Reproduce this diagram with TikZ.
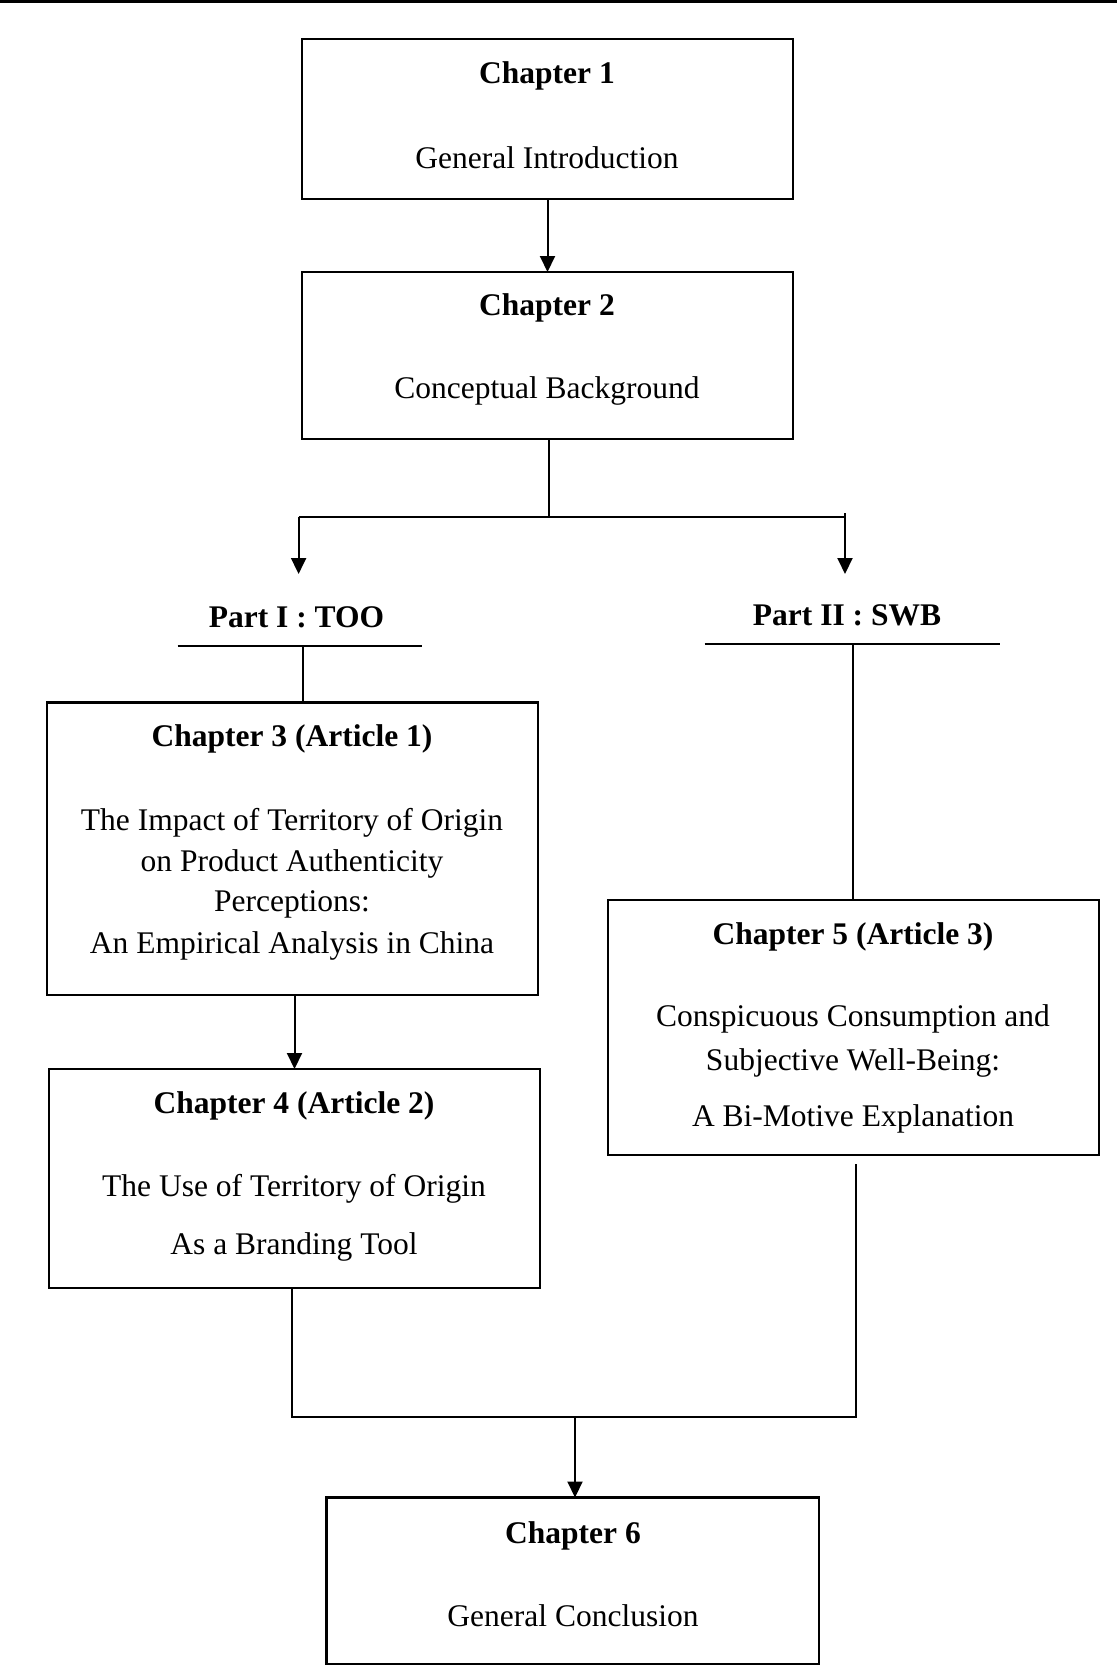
\documentclass[tikz,border=0pt]{standalone}
\usepackage{fontspec}
\setmainfont{Liberation Serif}
\usetikzlibrary{arrows.meta}
\begin{document}
\begin{tikzpicture}[x=1pt,y=-1pt,
  box/.style={draw, line width=2.3pt, inner sep=0pt, outer sep=0pt, minimum width=491pt},
  txt/.style={inner sep=0pt, font=\fontsize{31.5}{40}\selectfont},
  btxt/.style={inner sep=0pt, font=\fontsize{31.5}{40}\selectfont\bfseries},
  conn/.style={line width=2pt},
  arr/.style={line width=2pt, -{Triangle[length=16pt,width=15pt]}},
  rule/.style={line width=2.3pt}
]
\useasboundingbox (0,0) rectangle (1117,1667);
\draw[line width=3pt] (0,1.5) -- (1117,1.5);

% boxes
\node[box, minimum height=160pt] (b1) at (547.5,119) {};
\node[box, minimum height=167pt] (b2) at (547.5,355.5) {};
\node[box, minimum height=292.5pt] (b3) at (292.5,848.75) {};
\node[box, minimum height=219pt] (b4) at (294.5,1178.5) {};
\node[box, minimum height=255pt] (b5) at (853.5,1027.5) {};
\node[box, minimum width=492.5pt, minimum height=166.5pt] (b6) at (572.75,1580.75) {};

% texts
\node[btxt] (t1a) at (547,75.5) {Chapter 1};
\node[txt] (t1b) at (547,157.5) {General Introduction};
\node[btxt] (t2a) at (547,308.2) {Chapter 2};
\node[txt] (t2b) at (547,391.2) {Conceptual Background};
\node[btxt] (t3a) at (292,738.7) {Chapter 3 (Article 1)};
\node[txt] (t3b) at (292,822.6) {The Impact of Territory of Origin};
\node[txt] (t3c) at (292,864.1) {on Product Authenticity};
\node[txt] (t3d) at (292,904.5) {Perceptions:};
\node[txt] (t3e) at (292,945.9) {An Empirical Analysis in China};
\node[btxt] (t4a) at (294,1106.2) {Chapter 4 (Article 2)};
\node[txt] (t4b) at (294,1189.2) {The Use of Territory of Origin};
\node[txt] (t4c) at (294,1246.7) {As a Branding Tool};
\node[btxt] (t5a) at (853,937.2) {Chapter 5 (Article 3)};
\node[txt] (t5b) at (853,1019.2) {Conspicuous Consumption and};
\node[txt] (t5c) at (853,1062.8) {Subjective Well-Being:};
\node[txt] (t5d) at (853,1119.2) {A Bi-Motive Explanation};
\node[btxt] (t6a) at (573,1535.8) {Chapter 6};
\node[txt] (t6b) at (573,1615.5) {General Conclusion};

% parts
\node[btxt] (p1) at (296.5,617.5) {Part I : TOO};
\node[btxt] (p2) at (847,615.4) {Part II : SWB};
\coordinate (u1a) at (177.5,646);
\coordinate (u1b) at (422,646);
\coordinate (u2a) at (704.5,644);
\coordinate (u2b) at (1000,644);
\draw[rule] (u1a) -- (u1b);
\draw[rule] (u2a) -- (u2b);

% connectors
\draw[arr] (b1.south) -- (b2.north);
\coordinate (split) at (549,516.5);
\coordinate (tl) at (298.6,516.5);
\coordinate (tr) at (845,516.5);
\coordinate (trtop) at (845,513);
\coordinate (p1in) at (298.6,574);
\coordinate (p2in) at (845,574);
\draw[conn] (b2.south -| split) -- (split);
\draw[conn] (tl) -- (tr);
\draw[arr] (tl) -- (p1in);
\draw[arr] (trtop) -- (p2in);

\coordinate (d1) at (303,646);
\draw[conn] (d1) -- (d1 |- b3.north);
\coordinate (d2) at (853.4,644);
\draw[conn] (d2) -- (d2 |- b5.north);

\draw[arr] (b4.north |- b3.south) -- (b4.north);

\coordinate (c4) at (292,1416.7);
\coordinate (c5top) at (855.5,1164);
\coordinate (c5) at (855.5,1416.7);
\coordinate (cm) at (575,1416.7);
\draw[conn] (c4 |- b4.south) -- (c4) -- (c5) -- (c5top);
\draw[arr] (cm) -- (cm |- b6.north);
\end{tikzpicture}
\end{document}
